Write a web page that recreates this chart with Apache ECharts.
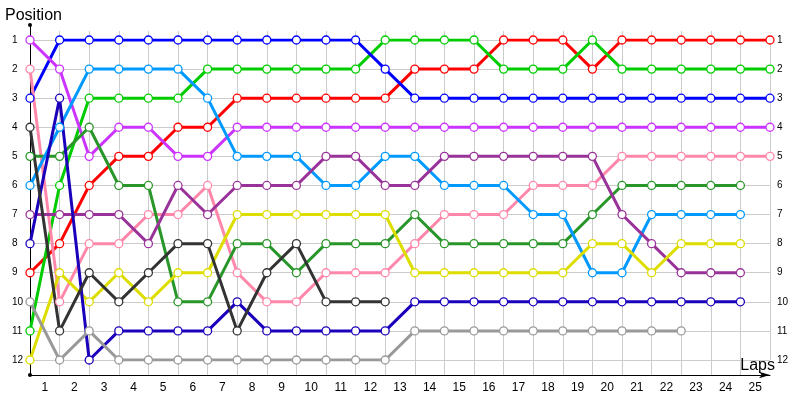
<!DOCTYPE html>
<html>
<head>
<meta charset="utf-8">
<script src="https://cdn.jsdelivr.net/npm/echarts@6/dist/echarts.min.js"></script>
<style>html,body{margin:0;padding:0;background:#fff}#c{width:800px;height:400px}</style>
</head>
<body>
<div id="c"></div>
<script>
// Lap tick labels (placed between grid lines)
const lapLabels = ['1','2','3','4','5','6','7','8','9','10','11','12','13','14','15','16','17','18','19','20','21','22','23','24','25'];
// Positions per driver: index 0 = grid start, index n = after lap n
const redPos       = [9,8,6,5,5,4,4,3,3,3,3,3,3,2,2,2,1,1,1,2,1,1,1,1,1,1];
const greenPos     = [11,6,3,3,3,3,2,2,2,2,2,2,1,1,1,1,2,2,2,1,2,2,2,2,2,2];
const bluePos      = [3,1,1,1,1,1,1,1,1,1,1,1,2,3,3,3,3,3,3,3,3,3,3,3,3,3];
const violetPos    = [1,2,5,4,4,5,5,4,4,4,4,4,4,4,4,4,4,4,4,4,4,4,4,4,4,4];
const pinkPos      = [2,10,8,8,7,7,6,9,10,10,9,9,9,8,7,7,7,6,6,6,5,5,5,5,5,5];
const darkGreenPos = [5,5,4,6,6,10,10,8,8,9,8,8,8,7,8,8,8,8,8,7,6,6,6,6,6];
const lightBluePos = [6,4,2,2,2,2,3,5,5,5,6,6,5,5,6,6,6,7,7,9,9,7,7,7,7];
const purplePos    = [7,7,7,7,8,6,7,6,6,6,5,5,6,6,5,5,5,5,5,5,7,8,9,9,9];
const yellowPos    = [12,9,10,9,10,9,9,7,7,7,7,7,7,9,9,9,9,9,9,8,8,9,8,8,8];
const navyPos      = [8,3,12,11,11,11,11,10,11,11,11,11,11,10,10,10,10,10,10,10,10,10,10,10,10];
const darkGrayPos  = [4,11,9,10,9,8,8,11,9,8,10,10,10];
const grayPos      = [10,12,11,12,12,12,12,12,12,12,12,12,12,11,11,11,11,11,11,11,11,11,11];

const seriesDefs = [
  {name:'Red', data:redPos, color:'#ff0000'},
  {name:'Green', data:greenPos, color:'#00cc00'},
  {name:'Blue', data:bluePos, color:'#0000ff'},
  {name:'Violet', data:violetPos, color:'#cc33ff'},
  {name:'Pink', data:pinkPos, color:'#ff88aa'},
  {name:'DarkGreen', data:darkGreenPos, color:'#29962a'},
  {name:'LightBlue', data:lightBluePos, color:'#0099ff'},
  {name:'Purple', data:purplePos, color:'#993399'},
  {name:'Yellow', data:yellowPos, color:'#dddd00'},
  {name:'Navy', data:navyPos, color:'#1a00bb'},
  {name:'DarkGray', data:darkGrayPos, color:'#333333'},
  {name:'Gray', data:grayPos, color:'#999999'}
];

const FONT = '"Liberation Sans", Arial, sans-serif';
const gridColor = '#cccccc';

const chart = echarts.init(document.getElementById('c'), null, {renderer:'canvas'});
chart.setOption({
  animation: false,
  backgroundColor: '#ffffff',
  grid: [
    {left: 30, top: 40, width: 740, height: 320},
    {left: 30, top: 31, width: 710.4, height: 344},
    {left: 30, top: 25, width: 740, height: 350}
  ],
  xAxis: [
    {gridIndex:0, type:'value', min:0, max:25, interval:1,
     axisLine:{show:false}, axisTick:{show:false}, axisLabel:{show:false},
     splitLine:{show:true, lineStyle:{color:gridColor, width:1}}},
    {gridIndex:0, type:'category', data: lapLabels, position:'bottom', offset:15, boundaryGap:true,
     axisLine:{show:false}, axisTick:{show:false}, splitLine:{show:false},
     axisLabel:{show:true, interval:0, margin:7, color:'#000', fontSize:12, fontFamily:FONT}},
    {gridIndex:1, type:'value', min:0, max:24, interval:1,
     axisLine:{show:false}, axisTick:{show:false}, axisLabel:{show:false},
     splitLine:{show:true, lineStyle:{color:gridColor, width:1}}},
    {gridIndex:2, type:'value', min:0, max:1,
     axisLine:{show:true, lineStyle:{color:'#000', width:1}, symbol:['none','arrow'], symbolSize:[5,11]},
     axisTick:{show:false}, axisLabel:{show:false}, splitLine:{show:false},
     name:'Laps', nameLocation:'end', nameGap:5,
     nameTextStyle:{color:'#000', fontSize:16, fontFamily:FONT, align:'right', verticalAlign:'bottom', padding:[0,0,1,0]}}
  ],
  yAxis: [
    {gridIndex:0, type:'value', min:1, max:12, interval:1, inverse:true, position:'left',
     axisLine:{show:false}, axisTick:{show:false},
     axisLabel:{show:true, margin:18, align:'left', color:'#000', fontSize:10, fontFamily:FONT},
     splitLine:{show:true, lineStyle:{color:gridColor, width:1}}},
    {gridIndex:0, type:'value', min:1, max:12, interval:1, inverse:true, position:'right',
     axisLine:{show:false}, axisTick:{show:false},
     axisLabel:{show:true, margin:7, align:'left', color:'#000', fontSize:10, fontFamily:FONT},
     splitLine:{show:false}},
    {gridIndex:1, type:'value', min:0, max:1, show:false},
    {gridIndex:2, type:'value', min:0, max:1,
     axisLine:{show:true, lineStyle:{color:'#000', width:1}, symbol:['circle','circle'], symbolSize:[4,4]},
     axisTick:{show:false}, axisLabel:{show:false}, splitLine:{show:false},
     name:'Position', nameLocation:'end', nameGap:9,
     nameTextStyle:{color:'#000', fontSize:16, fontFamily:FONT, align:'center', verticalAlign:'middle', padding:[0,0,0,7]}}
  ],
  series: seriesDefs.map((s) => ({
    name: s.name,
    type: 'line',
    xAxisIndex: 0,
    yAxisIndex: 0,
    data: s.data.map((v, i) => [i, v]),
    symbol: 'circle',
    symbolSize: 8,
    showAllSymbol: true,
    lineStyle: {color: s.color, width: 3},
    itemStyle: {color: '#ffffff', borderColor: s.color, borderWidth: 1.3},
    emphasis: {disabled: true},
    z: 3
  }))
});
</script>
</body>
</html>
